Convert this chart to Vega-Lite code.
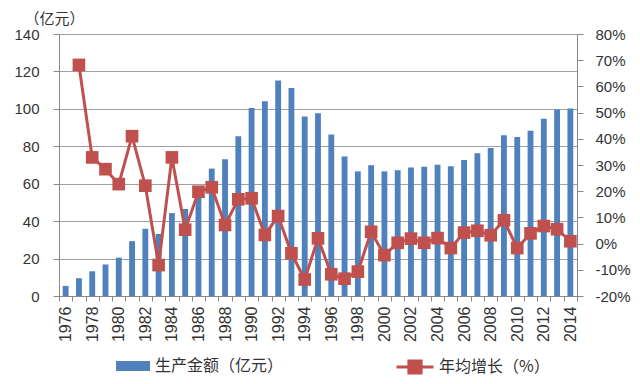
{
  "$schema": "https://vega.github.io/schema/vega-lite/v6.json",
  "width": 518,
  "height": 262,
  "autosize": "none",
  "padding": {"left": 59, "top": 34, "right": 63, "bottom": 88},
  "background": "white",
  "config": {"view": {"stroke": null}, "font": "Liberation Sans"},
  "data": {"values": [
    {"year": 1976, "amount": 5.4, "growth": null},
    {"year": 1977, "amount": 9.5, "growth": 68.2},
    {"year": 1978, "amount": 13.2, "growth": 32.9},
    {"year": 1979, "amount": 16.8, "growth": 28.4},
    {"year": 1980, "amount": 20.5, "growth": 22.7},
    {"year": 1981, "amount": 29.3, "growth": 41.0},
    {"year": 1982, "amount": 35.9, "growth": 22.1},
    {"year": 1983, "amount": 33.2, "growth": -8.2},
    {"year": 1984, "amount": 44.3, "growth": 32.9},
    {"year": 1985, "amount": 46.5, "growth": 5.3},
    {"year": 1986, "amount": 56.0, "growth": 19.8},
    {"year": 1987, "amount": 68.1, "growth": 21.5},
    {"year": 1988, "amount": 73.1, "growth": 7.1},
    {"year": 1989, "amount": 85.4, "growth": 16.9},
    {"year": 1990, "amount": 100.4, "growth": 17.3},
    {"year": 1991, "amount": 104.1, "growth": 3.3},
    {"year": 1992, "amount": 115.2, "growth": 10.5},
    {"year": 1993, "amount": 111.1, "growth": -3.7},
    {"year": 1994, "amount": 95.9, "growth": -13.7},
    {"year": 1995, "amount": 97.7, "growth": 2.0},
    {"year": 1996, "amount": 86.3, "growth": -11.7},
    {"year": 1997, "amount": 74.5, "growth": -13.4},
    {"year": 1998, "amount": 66.6, "growth": -10.7},
    {"year": 1999, "amount": 69.8, "growth": 4.5},
    {"year": 2000, "amount": 66.6, "growth": -4.4},
    {"year": 2001, "amount": 67.2, "growth": 0.3},
    {"year": 2002, "amount": 68.6, "growth": 1.9},
    {"year": 2003, "amount": 69.1, "growth": 0.3},
    {"year": 2004, "amount": 70.2, "growth": 2.1},
    {"year": 2005, "amount": 69.3, "growth": -1.7},
    {"year": 2006, "amount": 72.7, "growth": 4.2},
    {"year": 2007, "amount": 76.3, "growth": 4.9},
    {"year": 2008, "amount": 79.1, "growth": 3.2},
    {"year": 2009, "amount": 85.9, "growth": 8.9},
    {"year": 2010, "amount": 85.0, "growth": -1.7},
    {"year": 2011, "amount": 88.3, "growth": 3.9},
    {"year": 2012, "amount": 94.7, "growth": 6.7},
    {"year": 2013, "amount": 99.7, "growth": 5.5},
    {"year": 2014, "amount": 100.2, "growth": 0.9}
  ]},
  "encoding": {
    "x": {
      "field": "year",
      "type": "ordinal",
      "scale": {"paddingInner": 0, "paddingOuter": 0},
      "axis": {
        "title": null,
        "labelAngle": -90,
        "labelAlign": "right",
        "labelBaseline": "middle",
        "labelExpr": "datum.value % 2 == 0 ? datum.label : ''",
        "labelOverlap": false,
        "tickBand": "extent",
        "tickSize": 5,
        "labelPadding": 5,
        "domainColor": "#888888",
        "tickColor": "#888888",
        "labelFontSize": 16,
        "labelColor": "#333333",
        "grid": false
      }
    }
  },
  "layer": [
    {
      "mark": {"type": "bar", "width": {"band": 0.44}},
      "encoding": {
        "y": {
          "field": "amount",
          "type": "quantitative",
          "scale": {"domain": [0, 140], "nice": false},
          "axis": {
            "values": [0, 20, 40, 60, 80, 100, 120, 140],
            "title": "（亿元）",
            "titleAngle": 0,
            "titleX": -5,
            "titleY": -16,
            "titleAlign": "center",
            "titleBaseline": "middle",
            "titleFont": "Noto Sans CJK SC",
            "titleFontSize": 15,
            "titleFontWeight": "normal",
            "titleColor": "#333333",
            "grid": true,
            "gridColor": "#a0a0a0",
            "domainColor": "#888888",
            "tickColor": "#888888",
            "tickSize": 6,
            "labelPadding": 14,
            "labelFontSize": 15,
            "labelColor": "#333333"
          }
        },
        "color": {
          "datum": "生产金额（亿元）",
          "scale": {"range": ["#4F81BD"]},
          "legend": {
            "orient": "none",
            "legendX": 57,
            "legendY": 315,
            "title": null,
            "padding": 0,
            "symbolType": "M-1,-0.3H1V0.3H-1Z",
            "symbolSize": 1156,
            "symbolStrokeWidth": 0,
            "labelFont": "Noto Sans CJK SC",
            "labelFontSize": 16,
            "labelColor": "#333333",
            "labelOffset": 5
          }
        }
      }
    },
    {
      "mark": {"type": "line", "strokeWidth": 3, "point": {"shape": "square", "size": 160, "filled": true}},
      "encoding": {
        "y": {
          "field": "growth",
          "type": "quantitative",
          "scale": {"domain": [-20, 80], "nice": false},
          "axis": {
            "orient": "right",
            "values": [-20, -10, 0, 10, 20, 30, 40, 50, 60, 70, 80],
            "labelExpr": "datum.value + '%'",
            "title": null,
            "grid": false,
            "domainColor": "#888888",
            "tickColor": "#888888",
            "tickSize": 6,
            "labelPadding": 12,
            "labelFontSize": 15,
            "labelColor": "#333333"
          }
        },
        "color": {
          "datum": "年均增长（%）",
          "scale": {"range": ["#C0504D"]},
          "legend": {
            "orient": "none",
            "legendX": 336,
            "legendY": 313,
            "title": null,
            "padding": 0,
            "symbolType": "M-1,0H1M-0.33,-0.33H0.33V0.33H-0.33Z",
            "symbolSize": 1369,
            "symbolStrokeWidth": 3,
            "symbolFillColor": "#C0504D",
            "symbolStrokeColor": "#C0504D",
            "labelFont": "Noto Sans CJK SC",
            "labelFontSize": 16,
            "labelColor": "#333333",
            "labelOffset": 4
          }
        }
      }
    }
  ],
  "resolve": {"scale": {"y": "independent", "color": "independent"}}
}
